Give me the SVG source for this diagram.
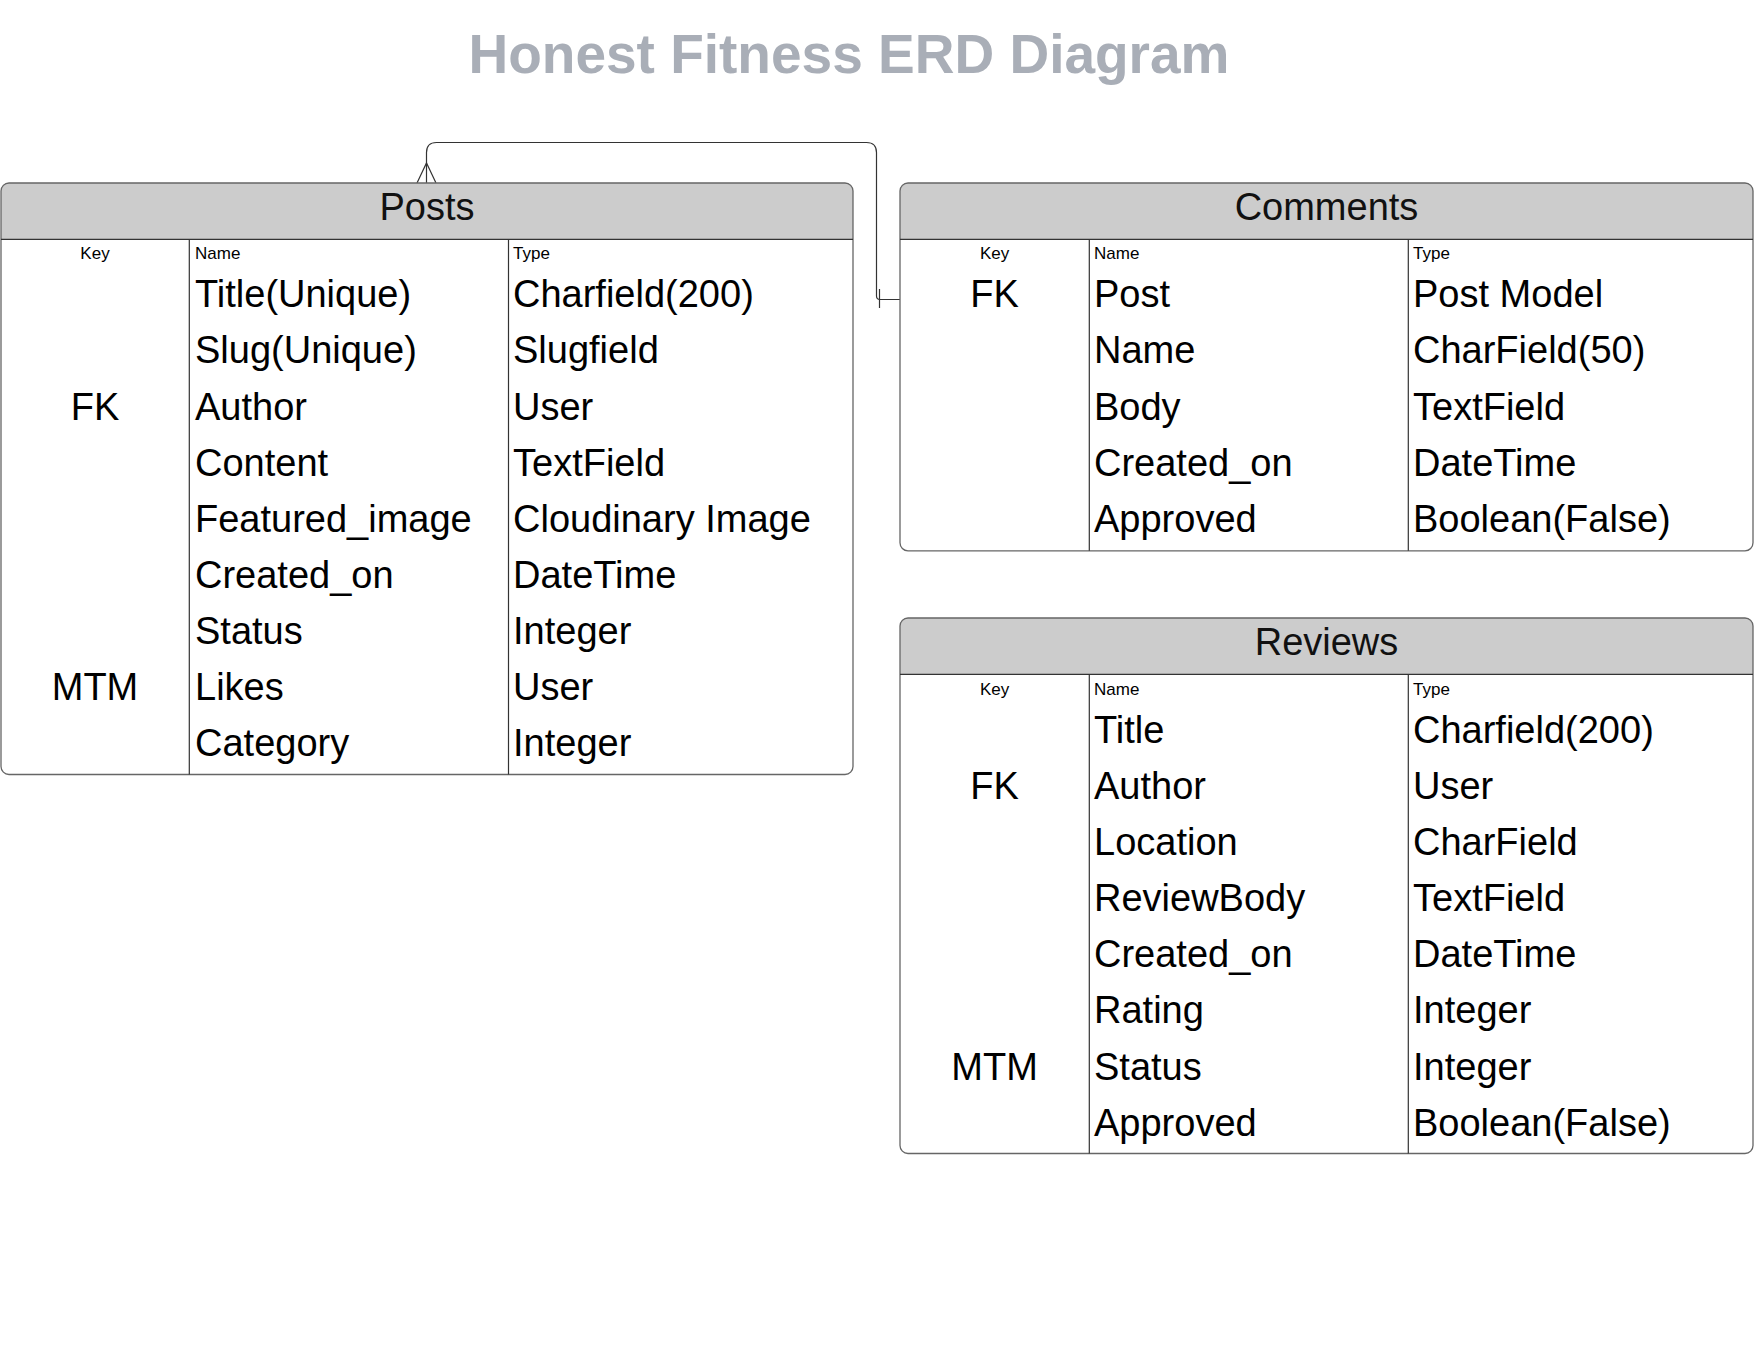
<svg xmlns="http://www.w3.org/2000/svg" width="1760" height="1360" viewBox="0 0 1760 1360">
<style>
.bg{fill:#ffffff}
.title{font-family:"Liberation Sans",Arial,sans-serif;font-weight:bold;font-size:55px;fill:#a9aeb7;text-anchor:middle}
.hdr{fill:#cccccc;stroke:none}
.box{fill:none;stroke:#666666;stroke-width:1.3}
.div{stroke:#333333;stroke-width:1.2}
.htxt{font-family:"Liberation Sans",Arial,sans-serif;font-size:38px;fill:#111111;text-anchor:middle}
.sm{font-family:"Liberation Sans",Arial,sans-serif;font-size:17px;fill:#000000}
.smc{text-anchor:middle}
.row{font-family:"Liberation Sans",Arial,sans-serif;font-size:38px;fill:#000000}
.key{text-anchor:middle}
.conn{fill:none;stroke:#333333;stroke-width:1.2}
</style>
<rect class="bg" x="0" y="0" width="1760" height="1360"/>
<text class="title" x="849" y="73">Honest Fitness ERD Diagram</text>

<g id="connectors">
<path class="conn" d="M426.5,183 V152.5 Q426.5,142.5 436.5,142.5 H866.5 Q876.5,142.5 876.5,152.5 V296 Q876.5,299.5 880,299.5 H900"/>
<path class="conn" d="M417,183 L426.5,163 L436,183"/>
<line class="conn" x1="879.5" y1="289" x2="879.5" y2="308"/>
</g>

<g id="posts">
<path class="hdr" d="M1,239.3 V191 Q1,183 9,183 H845 Q853,183 853,191 V239.3 Z"/>
<rect class="box" x="1" y="183" width="852" height="591.5" rx="8" ry="8"/>
<line class="div" x1="1" y1="239.3" x2="853" y2="239.3"/>
<line class="div" x1="189.3" y1="239.3" x2="189.3" y2="774.5"/>
<line class="div" x1="508.5" y1="239.3" x2="508.5" y2="774.5"/>
<text class="htxt" x="427" y="219.5">Posts</text>
<text class="sm smc" x="95" y="258.5">Key</text>
<text class="sm" x="195" y="258.5">Name</text>
<text class="sm" x="513" y="258.5">Type</text>
<text class="row key" x="95" y="419.5">FK</text>
<text class="row key" x="95" y="700">MTM</text>
<text class="row" x="195" y="307.3">Title(Unique)</text>
<text class="row" x="195" y="363.4">Slug(Unique)</text>
<text class="row" x="195" y="419.5">Author</text>
<text class="row" x="195" y="475.6">Content</text>
<text class="row" x="195" y="531.7">Featured_image</text>
<text class="row" x="195" y="587.8">Created_on</text>
<text class="row" x="195" y="643.9">Status</text>
<text class="row" x="195" y="700">Likes</text>
<text class="row" x="195" y="756.1">Category</text>
<text class="row" x="513" y="307.3">Charfield(200)</text>
<text class="row" x="513" y="363.4">Slugfield</text>
<text class="row" x="513" y="419.5">User</text>
<text class="row" x="513" y="475.6">TextField</text>
<text class="row" x="513" y="531.7">Cloudinary Image</text>
<text class="row" x="513" y="587.8">DateTime</text>
<text class="row" x="513" y="643.9">Integer</text>
<text class="row" x="513" y="700">User</text>
<text class="row" x="513" y="756.1">Integer</text>
</g>

<g id="comments">
<path class="hdr" d="M900,239.3 V191 Q900,183 908,183 H1745 Q1753,183 1753,191 V239.3 Z"/>
<rect class="box" x="900" y="183" width="853" height="367.8" rx="8" ry="8"/>
<line class="div" x1="900" y1="239.3" x2="1753" y2="239.3"/>
<line class="div" x1="1089.3" y1="239.3" x2="1089.3" y2="550.8"/>
<line class="div" x1="1408.3" y1="239.3" x2="1408.3" y2="550.8"/>
<text class="htxt" x="1326.5" y="219.5">Comments</text>
<text class="sm smc" x="994.6" y="258.5">Key</text>
<text class="sm" x="1094" y="258.5">Name</text>
<text class="sm" x="1413" y="258.5">Type</text>
<text class="row key" x="994.6" y="307.3">FK</text>
<text class="row" x="1094" y="307.3">Post</text>
<text class="row" x="1094" y="363.4">Name</text>
<text class="row" x="1094" y="419.5">Body</text>
<text class="row" x="1094" y="475.6">Created_on</text>
<text class="row" x="1094" y="531.7">Approved</text>
<text class="row" x="1413" y="307.3">Post Model</text>
<text class="row" x="1413" y="363.4">CharField(50)</text>
<text class="row" x="1413" y="419.5">TextField</text>
<text class="row" x="1413" y="475.6">DateTime</text>
<text class="row" x="1413" y="531.7">Boolean(False)</text>
</g>

<g id="reviews">
<path class="hdr" d="M900,674.3 V626 Q900,618 908,618 H1745 Q1753,618 1753,626 V674.3 Z"/>
<rect class="box" x="900" y="618" width="853" height="535.5" rx="8" ry="8"/>
<line class="div" x1="900" y1="674.3" x2="1753" y2="674.3"/>
<line class="div" x1="1089.3" y1="674.3" x2="1089.3" y2="1153.5"/>
<line class="div" x1="1408.3" y1="674.3" x2="1408.3" y2="1153.5"/>
<text class="htxt" x="1326.5" y="654.5">Reviews</text>
<text class="sm smc" x="994.6" y="694.5">Key</text>
<text class="sm" x="1094" y="694.5">Name</text>
<text class="sm" x="1413" y="694.5">Type</text>
<text class="row key" x="994.6" y="799">FK</text>
<text class="row key" x="994.6" y="1079.5">MTM</text>
<text class="row" x="1094" y="742.9">Title</text>
<text class="row" x="1094" y="799">Author</text>
<text class="row" x="1094" y="855.1">Location</text>
<text class="row" x="1094" y="911.2">ReviewBody</text>
<text class="row" x="1094" y="967.3">Created_on</text>
<text class="row" x="1094" y="1023.4">Rating</text>
<text class="row" x="1094" y="1079.5">Status</text>
<text class="row" x="1094" y="1135.6">Approved</text>
<text class="row" x="1413" y="742.9">Charfield(200)</text>
<text class="row" x="1413" y="799">User</text>
<text class="row" x="1413" y="855.1">CharField</text>
<text class="row" x="1413" y="911.2">TextField</text>
<text class="row" x="1413" y="967.3">DateTime</text>
<text class="row" x="1413" y="1023.4">Integer</text>
<text class="row" x="1413" y="1079.5">Integer</text>
<text class="row" x="1413" y="1135.6">Boolean(False)</text>
</g>
</svg>
